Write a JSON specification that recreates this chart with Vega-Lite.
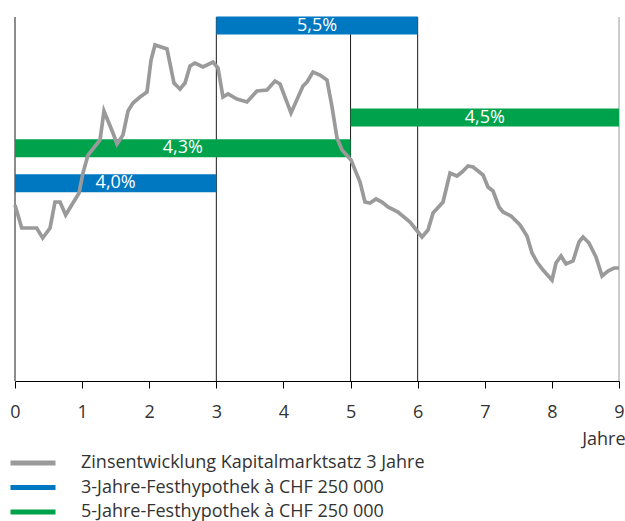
{
  "$schema": "https://vega.github.io/schema/vega-lite/v6.json",
  "width": 604,
  "height": 364,
  "autosize": {"type": "none"},
  "padding": {"left": 15, "top": 17, "right": 6, "bottom": 140},
  "config": {
    "font": "Open Sans",
    "view": {"stroke": null}
  },
  "datasets": {
    "grid": [{"year": 0}, {"year": 3}, {"year": 5}, {"year": 6}, {"year": 9}],
    "rates": [
      {"series": "3-Jahre-Festhypothek à CHF 250 000", "start": 0, "end": 3, "level": 197.7, "label": "4,0%"},
      {"series": "3-Jahre-Festhypothek à CHF 250 000", "start": 3, "end": 6, "level": 355.5, "label": "5,5%"},
      {"series": "5-Jahre-Festhypothek à CHF 250 000", "start": 0, "end": 5, "level": 232.7, "label": "4,3%"},
      {"series": "5-Jahre-Festhypothek à CHF 250 000", "start": 5, "end": 9, "level": 263.5, "label": "4,5%"}
    ],
    "market": [
      {"year": 0, "value": 176}, {"year": 0.1, "value": 153}, {"year": 0.323, "value": 153}, {"year": 0.413, "value": 143},
      {"year": 0.522, "value": 153}, {"year": 0.596, "value": 179}, {"year": 0.671, "value": 179}, {"year": 0.755, "value": 166},
      {"year": 0.954, "value": 188}, {"year": 1.013, "value": 208}, {"year": 1.088, "value": 226}, {"year": 1.267, "value": 241},
      {"year": 1.326, "value": 270}, {"year": 1.46, "value": 248}, {"year": 1.52, "value": 237}, {"year": 1.609, "value": 246},
      {"year": 1.684, "value": 270}, {"year": 1.758, "value": 278}, {"year": 1.863, "value": 284}, {"year": 1.967, "value": 289},
      {"year": 2.027, "value": 321}, {"year": 2.086, "value": 336}, {"year": 2.265, "value": 332}, {"year": 2.369, "value": 298},
      {"year": 2.459, "value": 292}, {"year": 2.533, "value": 298}, {"year": 2.608, "value": 315}, {"year": 2.682, "value": 318},
      {"year": 2.801, "value": 314}, {"year": 2.95, "value": 319}, {"year": 3.025, "value": 313}, {"year": 3.099, "value": 284},
      {"year": 3.174, "value": 287}, {"year": 3.308, "value": 282}, {"year": 3.457, "value": 279}, {"year": 3.606, "value": 290},
      {"year": 3.755, "value": 291}, {"year": 3.874, "value": 300}, {"year": 3.949, "value": 297}, {"year": 4.113, "value": 268},
      {"year": 4.291, "value": 295}, {"year": 4.351, "value": 299}, {"year": 4.44, "value": 309}, {"year": 4.545, "value": 306},
      {"year": 4.649, "value": 301}, {"year": 4.724, "value": 274}, {"year": 4.798, "value": 243}, {"year": 4.873, "value": 231},
      {"year": 5.007, "value": 221}, {"year": 5.141, "value": 199}, {"year": 5.215, "value": 179}, {"year": 5.29, "value": 178},
      {"year": 5.379, "value": 182}, {"year": 5.469, "value": 179}, {"year": 5.558, "value": 174}, {"year": 5.707, "value": 169},
      {"year": 5.886, "value": 159}, {"year": 6.065, "value": 144}, {"year": 6.154, "value": 151}, {"year": 6.229, "value": 168},
      {"year": 6.378, "value": 179}, {"year": 6.482, "value": 208}, {"year": 6.586, "value": 205}, {"year": 6.661, "value": 209},
      {"year": 6.75, "value": 215}, {"year": 6.825, "value": 214}, {"year": 6.974, "value": 206}, {"year": 7.048, "value": 194},
      {"year": 7.123, "value": 190}, {"year": 7.212, "value": 174}, {"year": 7.272, "value": 169}, {"year": 7.391, "value": 165},
      {"year": 7.525, "value": 156}, {"year": 7.629, "value": 145}, {"year": 7.704, "value": 128}, {"year": 7.778, "value": 119},
      {"year": 7.868, "value": 111}, {"year": 8.002, "value": 101}, {"year": 8.061, "value": 118}, {"year": 8.136, "value": 125},
      {"year": 8.21, "value": 117}, {"year": 8.315, "value": 120}, {"year": 8.404, "value": 139}, {"year": 8.464, "value": 144},
      {"year": 8.553, "value": 138}, {"year": 8.657, "value": 124}, {"year": 8.747, "value": 105}, {"year": 8.836, "value": 110},
      {"year": 8.926, "value": 113}, {"year": 9, "value": 113}
    ]
  },
  "resolve": {"scale": {"x": "shared", "y": "shared", "stroke": "shared"}, "axis": {"x": "shared"}},
  "layer": [
    {
      "data": {"name": "grid"},
      "mark": {"type": "rule", "strokeWidth": 1},
      "encoding": {
        "x": {
          "field": "year", "type": "quantitative",
          "scale": {"domain": [0, 9], "nice": false, "zero": false},
          "axis": {
            "title": "Jahre",
            "domainColor": "#000000", "tickColor": "#000000", "tickSize": 7,
            "labelFontSize": 18, "labelColor": "#333333", "labelPadding": 15, "labelFlush": false,
            "values": [0, 1, 2, 3, 4, 5, 6, 7, 8, 9], "format": "d", "grid": false,
            "titleFontSize": 18, "titleFontWeight": "normal", "titleColor": "#333333",
            "titleAnchor": "end", "titleAlign": "right", "titleBaseline": "alphabetic",
            "titleX": 610, "titleY": 63
          }
        },
        "stroke": {"condition": {"test": "datum.year === 9", "value": "#9a9a9a"}, "value": "#1a1a1a"},
        "strokeWidth": {"condition": {"test": "datum.year === 9", "value": 1.5}, "value": 1}
      }
    },
    {
      "data": {"name": "rates"},
      "mark": {"type": "rule", "strokeWidth": 18, "strokeCap": "butt"},
      "encoding": {
        "x": {"field": "start", "type": "quantitative", "scale": {"domain": [0, 9], "nice": false, "zero": false}},
        "x2": {"field": "end"},
        "y": {"field": "level", "type": "quantitative", "scale": {"domain": [0, 364], "nice": false}, "axis": null},
        "stroke": {
          "field": "series", "type": "nominal",
          "scale": {
            "domain": ["Zinsentwicklung Kapitalmarktsatz 3 Jahre", "3-Jahre-Festhypothek à CHF 250 000", "5-Jahre-Festhypothek à CHF 250 000"],
            "range": ["#9a9a9a", "#0078c1", "#00a34b"]
          },
          "legend": {
            "title": null, "orient": "none", "legendX": -7, "legendY": 436, "direction": "vertical",
            "symbolType": "stroke", "symbolSize": 2025, "symbolStrokeWidth": 5,
            "labelFontSize": 18, "labelColor": "#333333", "labelOffset": 23, "labelLimit": 600,
            "clipHeight": 20, "rowPadding": 4.5
          }
        }
      }
    },
    {
      "data": {"name": "market"},
      "mark": {"type": "line", "strokeWidth": 3.7, "strokeJoin": "miter"},
      "encoding": {
        "x": {"field": "year", "type": "quantitative", "scale": {"domain": [0, 9], "nice": false, "zero": false}},
        "y": {"field": "value", "type": "quantitative", "scale": {"domain": [0, 364], "nice": false}, "axis": null},
        "stroke": {"datum": "Zinsentwicklung Kapitalmarktsatz 3 Jahre", "type": "nominal"}
      }
    },
    {
      "data": {"name": "rates"},
      "transform": [{"calculate": "(datum.start + datum.end) / 2", "as": "mid"}],
      "mark": {"type": "text", "color": "#ffffff", "fontSize": 18, "align": "center", "baseline": "middle"},
      "encoding": {
        "x": {"field": "mid", "type": "quantitative", "scale": {"domain": [0, 9], "nice": false, "zero": false}},
        "y": {"field": "level", "type": "quantitative", "scale": {"domain": [0, 364], "nice": false}, "axis": null},
        "text": {"field": "label"}
      }
    }
  ]
}
